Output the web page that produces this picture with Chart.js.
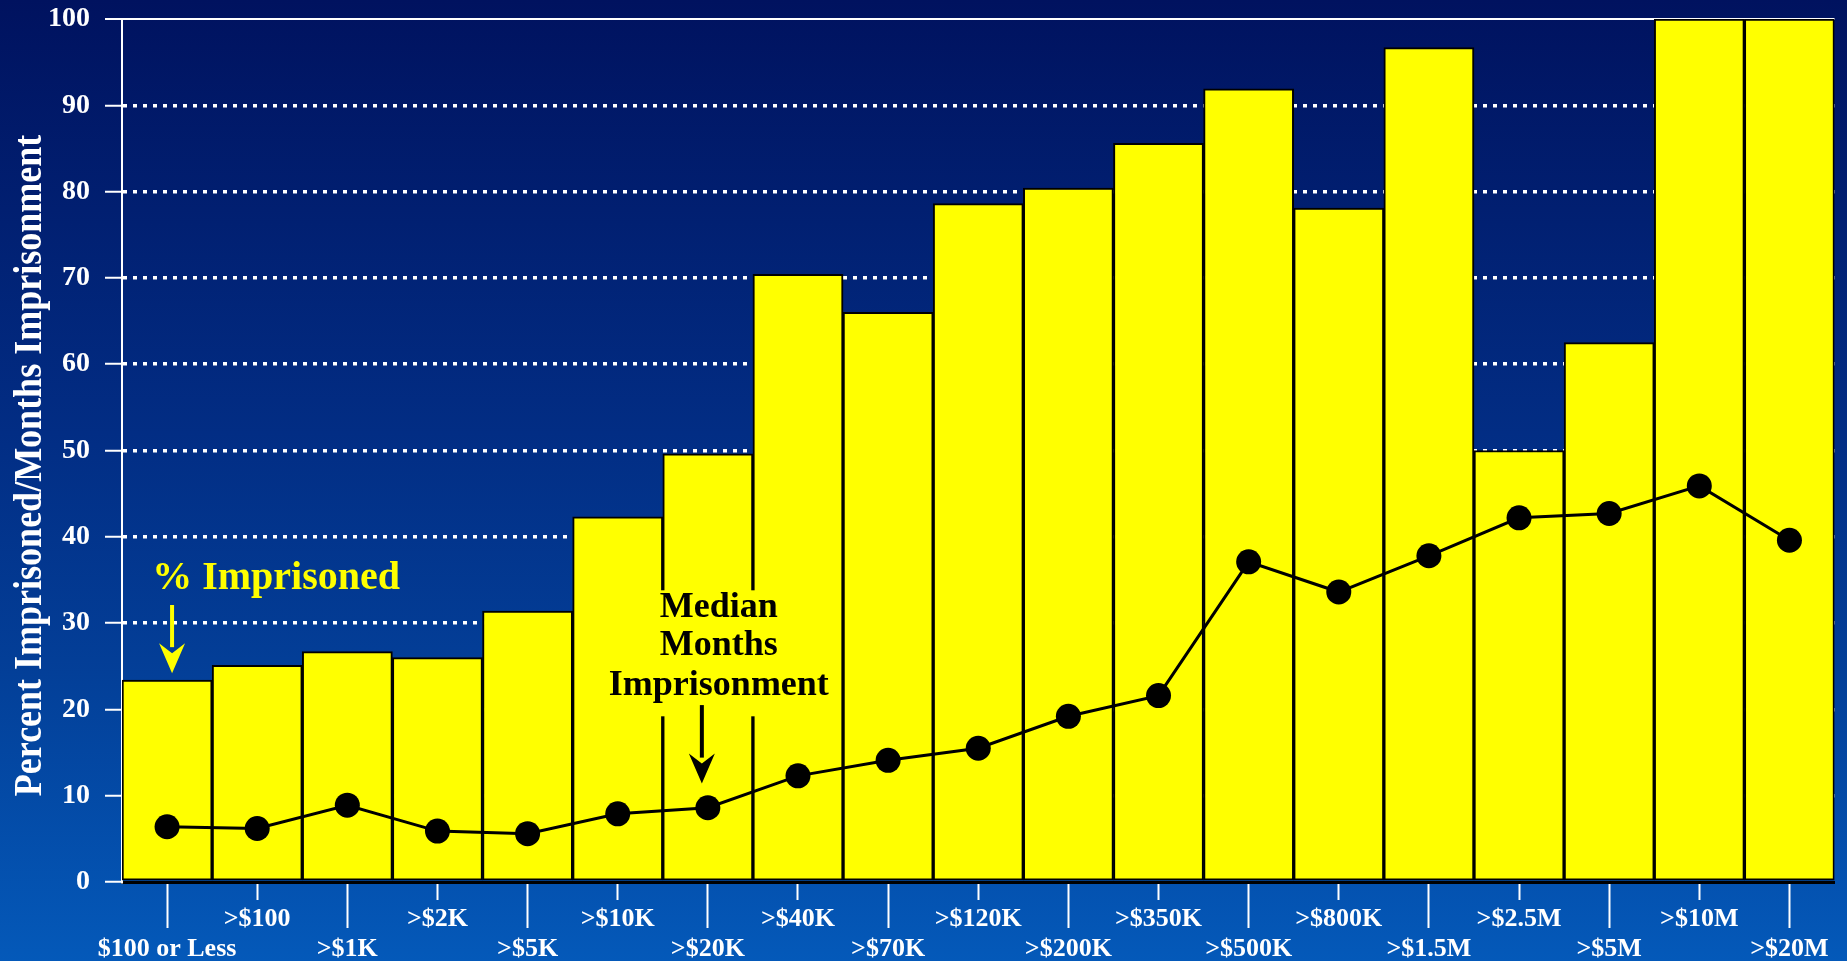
<!DOCTYPE html>
<html>
<head>
<meta charset="utf-8">
<title>Imprisonment by loss amount</title>
<script src="https://cdn.jsdelivr.net/npm/chart.js@4.4.1/dist/chart.umd.min.js"></script>
<style>
  html, body { margin: 0; padding: 0; background: #02307f; }
  canvas { display: block; }
</style>
</head>
<body>
<canvas id="chart" width="1847" height="961"></canvas>
<script>
// ─── Data ────────────────────────────────────────────────────────────────────
const lossBrackets = [
    '$100 or Less', '>$100', '>$1K', '>$2K', '>$5K', '>$10K', '>$20K', '>$40K',
    '>$70K', '>$120K', '>$200K', '>$350K', '>$500K', '>$800K', '>$1.5M',
    '>$2.5M', '>$5M', '>$10M', '>$20M'
];
const pctImprisoned = [
    23.4, 25.1, 26.7, 26.0, 31.4, 42.3, 49.6, 70.4, 66.0, 78.6,
    80.4, 85.6, 91.9, 78.1, 96.7, 50.0, 62.5, 100, 100
];
const medianMonths = [
    6.4, 6.2, 8.9, 5.9, 5.6, 7.9, 8.6, 12.3, 14.1, 15.5,
    19.2, 21.6, 37.1, 33.6, 37.8, 42.2, 42.7, 45.9, 39.6
];
const yTicks = [0, 10, 20, 30, 40, 50, 60, 70, 80, 90, 100];
const yTitle = 'Percent Imprisoned/Months Imprisonment';

const SERIF = "'Liberation Serif', 'Times New Roman', serif";

// ─── Plugins ─────────────────────────────────────────────────────────────────
const slideBackground = {
    id: 'slideBackground',
    beforeDraw(chart) {
        const { ctx, width, height } = chart;
        const g = ctx.createLinearGradient(0, 0, 0, height);
        g.addColorStop(0, '#00125f');
        g.addColorStop(0.45, '#022d84');
        g.addColorStop(0.7, '#033f98');
        g.addColorStop(1, '#0459b9');
        ctx.save();
        ctx.fillStyle = g;
        ctx.fillRect(0, 0, width, height);
        ctx.restore();
    }
};

// condensed, tall axis title like the original slide
const axisTitle = {
    id: 'axisTitle',
    afterDraw(chart) {
        const { ctx, scales: { y } } = chart;
        ctx.save();
        ctx.translate(31, (y.top + y.bottom) / 2 + 15);
        ctx.rotate(-Math.PI / 2);
        ctx.scale(0.9, 1);
        ctx.fillStyle = '#ffffff';
        ctx.font = `bold 40px ${SERIF}`;
        ctx.textAlign = 'center';
        ctx.textBaseline = 'middle';
        ctx.fillText(yTitle, 0, 0);
        ctx.restore();
    }
};

const drawArrow = (ctx, x, yTop, yTip, color) => {
    const headLen = 30, headHalf = 13;
    ctx.strokeStyle = color;
    ctx.fillStyle = color;
    ctx.lineWidth = 4;
    ctx.beginPath();
    ctx.moveTo(x, yTop);
    ctx.lineTo(x, yTip - headLen + 4);
    ctx.stroke();
    ctx.beginPath();
    ctx.moveTo(x - headHalf, yTip - headLen);
    ctx.lineTo(x, yTip - headLen + 10);
    ctx.lineTo(x + headHalf, yTip - headLen);
    ctx.lineTo(x, yTip);
    ctx.closePath();
    ctx.fill();
};

const callouts = {
    id: 'callouts',
    afterDatasetsDraw(chart) {
        const { ctx, scales: { x, y } } = chart;
        ctx.save();
        ctx.textAlign = 'center';
        ctx.textBaseline = 'middle';

        // "% Imprisoned" label pointing at the first bar
        const x0 = x.getPixelForValue(0);
        ctx.fillStyle = '#ffff00';
        ctx.font = `bold 40px ${SERIF}`;
        ctx.fillText('% Imprisoned', x0 + 109, y.getPixelForValue(35.2));
        drawArrow(ctx, x0 + 5, y.getPixelForValue(32.1), y.getPixelForValue(24.2), '#ffff00');

        // "Median Months Imprisonment" label on a yellow patch
        const x6 = x.getPixelForValue(6);
        ctx.fillStyle = '#ffff00';
        ctx.fillRect(x6 - 97, y.getPixelForValue(33.8), 218,
            y.getPixelForValue(19.2) - y.getPixelForValue(33.8));
        ctx.fillStyle = '#000000';
        ctx.font = `bold 36px ${SERIF}`;
        ctx.fillText('Median', x6 + 11, y.getPixelForValue(31.8));
        ctx.fillText('Months', x6 + 11, y.getPixelForValue(27.4));
        ctx.fillText('Imprisonment', x6 + 11, y.getPixelForValue(22.8));
        drawArrow(ctx, x6 - 6, y.getPixelForValue(20.5), y.getPixelForValue(11.4), '#000000');

        ctx.restore();
    }
};

// ─── Chart ───────────────────────────────────────────────────────────────────
new Chart(document.getElementById('chart'), {
    data: {
        labels: lossBrackets,
        datasets: [
            {
                type: 'line',
                label: 'Median Months Imprisonment',
                data: medianMonths,
                borderColor: '#000000',
                borderWidth: 3,
                pointRadius: 12.5,
                pointBackgroundColor: '#000000',
                pointBorderWidth: 0,
                tension: 0
            },
            {
                type: 'bar',
                label: '% Imprisoned',
                data: pctImprisoned,
                backgroundColor: '#ffff00',
                borderColor: '#000000',
                borderWidth: 2,
                borderSkipped: false,
                barPercentage: 1,
                categoryPercentage: 1
            }
        ]
    },
    options: {
        responsive: false,
        devicePixelRatio: 1,
        animation: false,
        layout: { padding: { top: 19, right: 5, left: 0, bottom: 0 } },
        plugins: {
            legend: { display: false },
            tooltip: { enabled: false }
        },
        scales: {
            x: {
                afterFit: (scale) => {
                    scale.height = 79;
                    scale.paddingLeft = 0;
                    scale.paddingRight = 0;
                    scale.paddingTop = 0;
                    scale.paddingBottom = 0;
                },
                grid: {
                    offset: false,
                    drawOnChartArea: false,
                    tickColor: '#ffffff',
                    tickWidth: 2,
                    tickLength: 46,
                    tickBorderDash: (c) => (c.index % 2 ? [16, 100] : [])
                },
                border: { color: '#000000', width: 3 },
                ticks: {
                    autoSkip: false,
                    maxRotation: 0,
                    minRotation: 0,
                    padding: -24,
                    color: '#ffffff',
                    font: { family: SERIF, size: 26, weight: 'bold', lineHeight: 1.15 },
                    callback: (v, i) => (i % 2 ? [lossBrackets[i]] : ['', lossBrackets[i]])
                }
            },
            y: {
                min: 0,
                max: 100,
                afterFit: (scale) => {
                    scale.width = 122;
                    scale.paddingTop = 0;
                    scale.paddingBottom = 0;
                    scale.paddingLeft = 0;
                    scale.paddingRight = 0;
                },
                afterBuildTicks: (scale) => { scale.ticks = yTicks.map(v => ({ value: v })); },
                grid: {
                    color: (c) => (c.tick && c.tick.value === 0 ? 'rgba(0,0,0,0)' : '#ffffff'),
                    lineWidth: (c) => (c.tick && c.tick.value === 100 ? 2 : 3.5),
                    tickColor: '#ffffff',
                    tickWidth: 2,
                    tickLength: 17
                },
                border: {
                    color: '#ffffff',
                    width: 2,
                    dash: (c) => (c.tick && c.tick.value === 100 ? [] : [4, 6])
                },
                ticks: {
                    padding: 15,
                    color: '#ffffff',
                    font: { family: SERIF, size: 28, weight: 'bold' }
                },
                title: { display: false }
            }
        }
    },
    plugins: [slideBackground, callouts, axisTitle]
});
</script>
</body>
</html>
